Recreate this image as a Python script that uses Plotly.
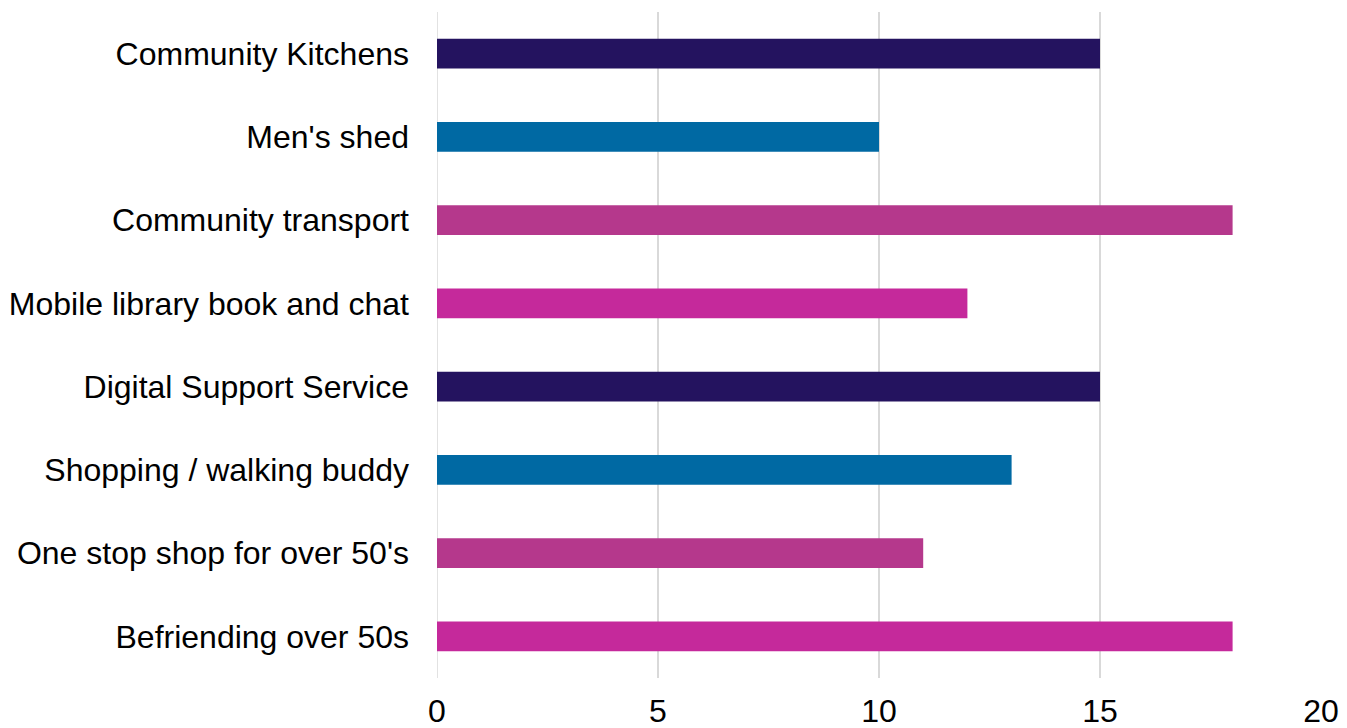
import plotly.graph_objects as go

categories = [
    "Community Kitchens",
    "Men's shed",
    "Community transport",
    "Mobile library book and chat",
    "Digital Support Service",
    "Shopping / walking buddy",
    "One stop shop for over 50's",
    "Befriending over 50s",
]
values = [15, 10, 18, 12, 15, 13, 11, 18]
colors = ["#24135F", "#0069A3", "#B5388C", "#C5299B",
          "#24135F", "#0069A3", "#B5388C", "#C5299B"]
x_ticks = [0, 5, 10, 15, 20]

fig = go.Figure(go.Bar(
    x=values, y=categories, orientation="h",
    marker=dict(color=colors, line=dict(width=0)),
    width=0.36,
))

# page body has an 8px default margin, so the figure is sized to fit the window
fig.update_layout(
    width=1339, height=720,
    margin=dict(l=429, r=26, t=4, b=50),
    paper_bgcolor="white", plot_bgcolor="white",
    font=dict(family="Liberation Sans, Arial, sans-serif", size=32, color="#000000"),
    showlegend=False,
)
fig.update_xaxes(
    range=[0, 20], tickvals=x_ticks, showgrid=True, gridcolor="#D9D9D9", gridwidth=1.5,
    zeroline=False, showline=False, ticks="", ticklabelstandoff=11, automargin=False,
    tickfont=dict(size=32),
)
fig.update_yaxes(
    categoryorder="array", categoryarray=categories, autorange=False, range=[7.5, -0.5],
    showgrid=False, zeroline=False, showline=False, ticks="", ticklabelstandoff=27,
    automargin=False, tickfont=dict(size=32),
)
fig.add_vline(x=0, line=dict(color="#D9D9D9", width=1.5), layer="below")

fig.write_html("out.html")
